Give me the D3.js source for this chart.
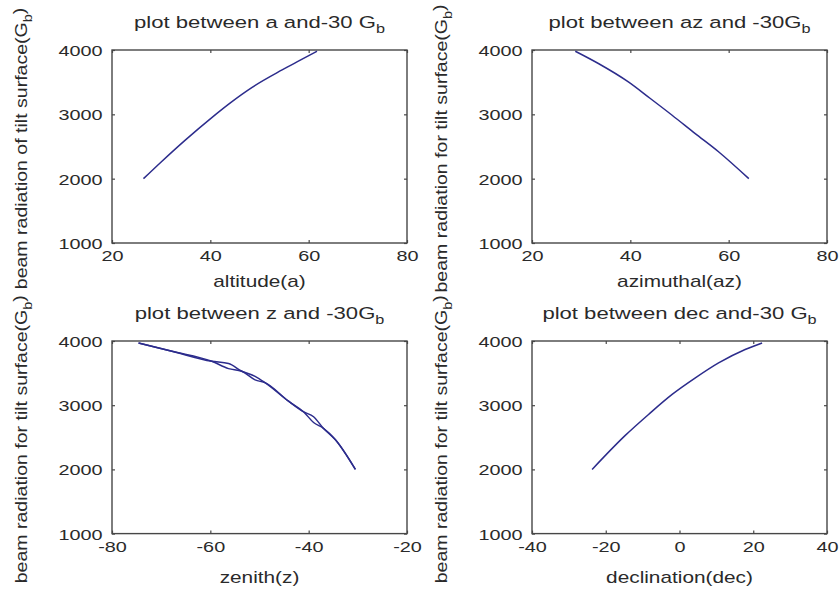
<!DOCTYPE html>
<html>
<head>
<meta charset="utf-8">
<script src="https://cdn.jsdelivr.net/npm/d3@7"></script>
<style>
  body { margin: 0; background: #fff; }
  svg { display: block; background: #fff; }
  text { font-family: "Liberation Sans", Arial, Helvetica, sans-serif; fill: #2a2a2a; }
</style>
</head>
<body>
<svg id="fig" width="839" height="590"></svg>
<script>
// Beam radiation on a surface tilted at 30 degrees, against four solar angles.

const yTicks = [1000, 2000, 3000, 4000];
const yDomain = [1000, 4000];

// altitude angle (deg) vs beam radiation
const altitudeTicks = [20, 40, 60, 80];
const altitude   = [26.4, 30, 34.9, 40.3, 44, 48.5, 54.6, 58, 61.7];
const altitudeGb = [2000, 2260, 2600, 2950, 3175, 3420, 3690, 3830, 3981];

// azimuth angle (deg) vs beam radiation
const azimuthTicks = [20, 40, 60, 80];
const azimuth   = [28.8, 33.5, 39.6, 44, 48.5, 53.2, 58, 64.1];
const azimuthGb = [3981, 3790, 3504, 3250, 2986, 2701, 2415, 2000];

// zenith angle (deg) vs beam radiation, two overlapping traces
const zenithTicks = [-80, -60, -40, -20];
const zenith    = [-74.6, -67.8, -59.7, -56.3, -53.6, -50.9, -48.8, -44.1, -41, -39.0, -37, -34.6, -30.5];
const zenithGbA = [3969, 3840, 3684, 3570, 3529, 3395, 3347, 3062, 2895, 2730, 2640, 2466, 2000];
const zenithGbB = [3969, 3840, 3684, 3650, 3529, 3450, 3347, 3062, 2895, 2820, 2640, 2466, 2000];

// declination (deg) vs beam radiation
const declinationTicks = [-40, -20, 0, 20, 40];
const declination   = [-23.7, -14.7, -8.4, -2.0, 4.3, 10.6, 17.8, 22.4];
const declinationGb = [2000, 2530, 2856, 3168, 3426, 3659, 3868, 3970];

const svg = d3.select("#fig");
const LINE = "#2c2c8c";
const AXIS = "#474747";

const cols = [{ left: 112, right: 407, ylab: 27 }, { left: 532, right: 827, ylab: 447 }];
const rows = [
  { top: 50, bottom: 243, title: 27.5, xlab: 287 },
  { top: 341, bottom: 533.6, title: 319, xlab: 583 }
];

const panels = [
  { col: 0, row: 0, domain: [20, 80], ticks: altitudeTicks,
    series: [[altitude, altitudeGb]],
    title: ["plot between a and-30 G", "b"], xlabel: "altitude(a)",
    ylabel: ["beam radiation of tilt surface(G", "b", ")"] },
  { col: 1, row: 0, domain: [20, 80], ticks: azimuthTicks,
    series: [[azimuth, azimuthGb]],
    title: ["plot between az and -30G", "b"], xlabel: "azimuthal(az)",
    ylabel: ["beam radiation for tilt surface(G", "b", ")"] },
  { col: 0, row: 1, domain: [-80, -20], ticks: zenithTicks,
    series: [[zenith, zenithGbA], [zenith, zenithGbB]],
    title: ["plot between z and -30G", "b"], xlabel: "zenith(z)",
    ylabel: ["beam radiation for tilt surface(G", "b", ")"] },
  { col: 1, row: 1, domain: [-40, 40], ticks: declinationTicks,
    series: [[declination, declinationGb]],
    title: ["plot between dec and-30 G", "b"], xlabel: "declination(dec)",
    ylabel: ["beam radiation for tilt surface(G", "b", ")"] }
];

const TICK_FS = 15.5, TICK_SX = 1.28;

panels.forEach(p => {
  const c = cols[p.col], r = rows[p.row];
  const x = d3.scaleLinear().domain(p.domain).range([c.left, c.right]);
  const y = d3.scaleLinear().domain(yDomain).range([r.bottom, r.top]);
  const g = svg.append("g");
  const fmt = d => String(d);

  // inward ticks on all four sides
  const bottom = g.append("g").attr("transform", `translate(0,${r.bottom})`)
    .call(d3.axisBottom(x).tickValues(p.ticks).tickSize(-3).tickFormat(fmt));
  const left = g.append("g").attr("transform", `translate(${c.left},0)`)
    .call(d3.axisLeft(y).tickValues(yTicks).tickSize(-3).tickFormat(fmt));
  g.append("g").attr("transform", `translate(0,${r.top})`)
    .call(d3.axisTop(x).tickValues(p.ticks).tickSize(-3).tickFormat(""));
  g.append("g").attr("transform", `translate(${c.right},0)`)
    .call(d3.axisRight(y).tickValues(yTicks).tickSize(-3).tickFormat(""));

  g.selectAll(".domain").remove();
  g.selectAll("g").attr("font-family", null).attr("font-size", null);
  g.selectAll(".tick line").attr("stroke", AXIS).attr("stroke-width", 1.2);

  bottom.selectAll(".tick text")
    .attr("y", 12.5).attr("dy", "0.36em")
    .attr("font-size", TICK_FS)
    .attr("transform", `scale(${TICK_SX},1)`);
  left.selectAll(".tick text")
    .attr("x", -9.5 / TICK_SX).attr("dy", "0.36em")
    .attr("font-size", TICK_FS)
    .attr("transform", `scale(${TICK_SX},1)`);

  // axes box
  g.append("rect")
    .attr("x", c.left).attr("y", r.top)
    .attr("width", c.right - c.left).attr("height", r.bottom - r.top)
    .attr("fill", "none").attr("stroke", AXIS).attr("stroke-width", 1.4);

  // data traces
  const line = d3.line().curve(d3.curveMonotoneX).x(d => x(d[0])).y(d => y(d[1]));
  p.series.forEach(([xs, ys]) => {
    g.append("path")
      .datum(xs.map((v, i) => [v, ys[i]]))
      .attr("d", line)
      .attr("fill", "none").attr("stroke", LINE)
      .attr("stroke-width", 1.5).attr("stroke-linejoin", "round");
  });

  const cx = (c.left + c.right) / 2;

  // title with subscript
  const t = g.append("text")
    .attr("text-anchor", "middle").attr("font-size", 17)
    .attr("transform", `translate(${cx},${r.title}) scale(1.3,1)`);
  t.append("tspan").text(p.title[0]);
  t.append("tspan").attr("font-size", 12.5).attr("dy", "0.4em").text(p.title[1]);

  // x label
  g.append("text")
    .attr("text-anchor", "middle").attr("font-size", 16)
    .attr("transform", `translate(${cx},${r.xlab}) scale(1.3,1)`)
    .text(p.xlabel);

  // y label
  const cy = (r.top + r.bottom) / 2 + 2;
  const yl = g.append("text")
    .attr("text-anchor", "middle").attr("font-size", 17)
    .attr("transform", `translate(${c.ylab},${cy}) rotate(-90) scale(1.15,1)`);
  yl.append("tspan").text(p.ylabel[0]);
  yl.append("tspan").attr("font-size", 12.5).attr("dy", "0.4em").text(p.ylabel[1]);
  yl.append("tspan").attr("dy", "-0.4em").text(p.ylabel[2]);
});
</script>
</body>
</html>
